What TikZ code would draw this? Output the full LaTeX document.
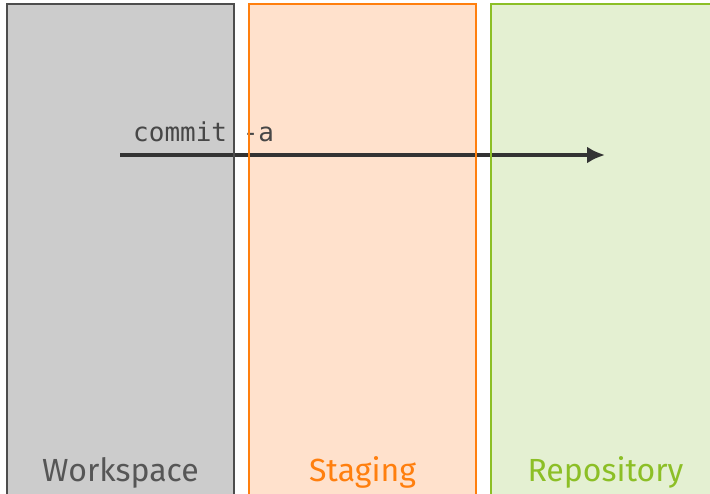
\documentclass[tikz,border=0pt]{standalone}
\usepackage{fontspec}
\setmainfont{Fira Sans}
\setmonofont{DejaVu Sans Mono}
\usetikzlibrary{arrows.meta}
\definecolor{wsfill}{HTML}{CCCCCC}
\definecolor{wsline}{HTML}{4D4D4D}
\definecolor{stfill}{HTML}{FFE1CC}
\definecolor{stline}{HTML}{FF7F0E}
\definecolor{rpfill}{HTML}{E4F0D2}
\definecolor{rpline}{HTML}{8CBF26}
\definecolor{arrowc}{HTML}{333333}
\tikzset{
  lane/.style={line width=2pt},
  lanelabel/.style={font=\fontsize{32}{38}\selectfont, anchor=base},
  cmdlabel/.style={font=\ttfamily\fontsize{26}{30}\selectfont, text=arrowc!90!white, anchor=base west, inner sep=0pt},
  cmdarrow/.style={line width=4.5pt, draw=arrowc, -{Latex[length=18pt,width=17pt]}}
}
\begin{document}
\begin{tikzpicture}[x=1pt,y=-1pt]
\useasboundingbox (0,0) rectangle (710,494);
\fill[wsfill] (7,4) rectangle (234,510);
\fill[stfill] (249,4) rectangle (476,510);
\fill[rpfill] (491,4) rectangle (720,510);
\coordinate (a0) at (120,155);
\coordinate (a1) at (605,155);
\draw[cmdarrow] (a0) -- (a1);
\node[cmdlabel] (cmd) at (133,142) {commit -a};
\draw[lane, wsline] (7,510) -- (7,4) -- (234,4) -- (234,510);
\draw[lane, stline] (249,510) -- (249,4) -- (476,4) -- (476,510);
\draw[lane, rpline] (491,510) -- (491,4) -- (720,4);
\node[lanelabel, text=wsline!95!white] (ws) at (120.5,481) {Workspace};
\node[lanelabel, text=stline] (st) at (362.5,481) {Staging};
\node[lanelabel, text=rpline] (rp) at (605.5,481) {Repository};
\end{tikzpicture}
\end{document}
